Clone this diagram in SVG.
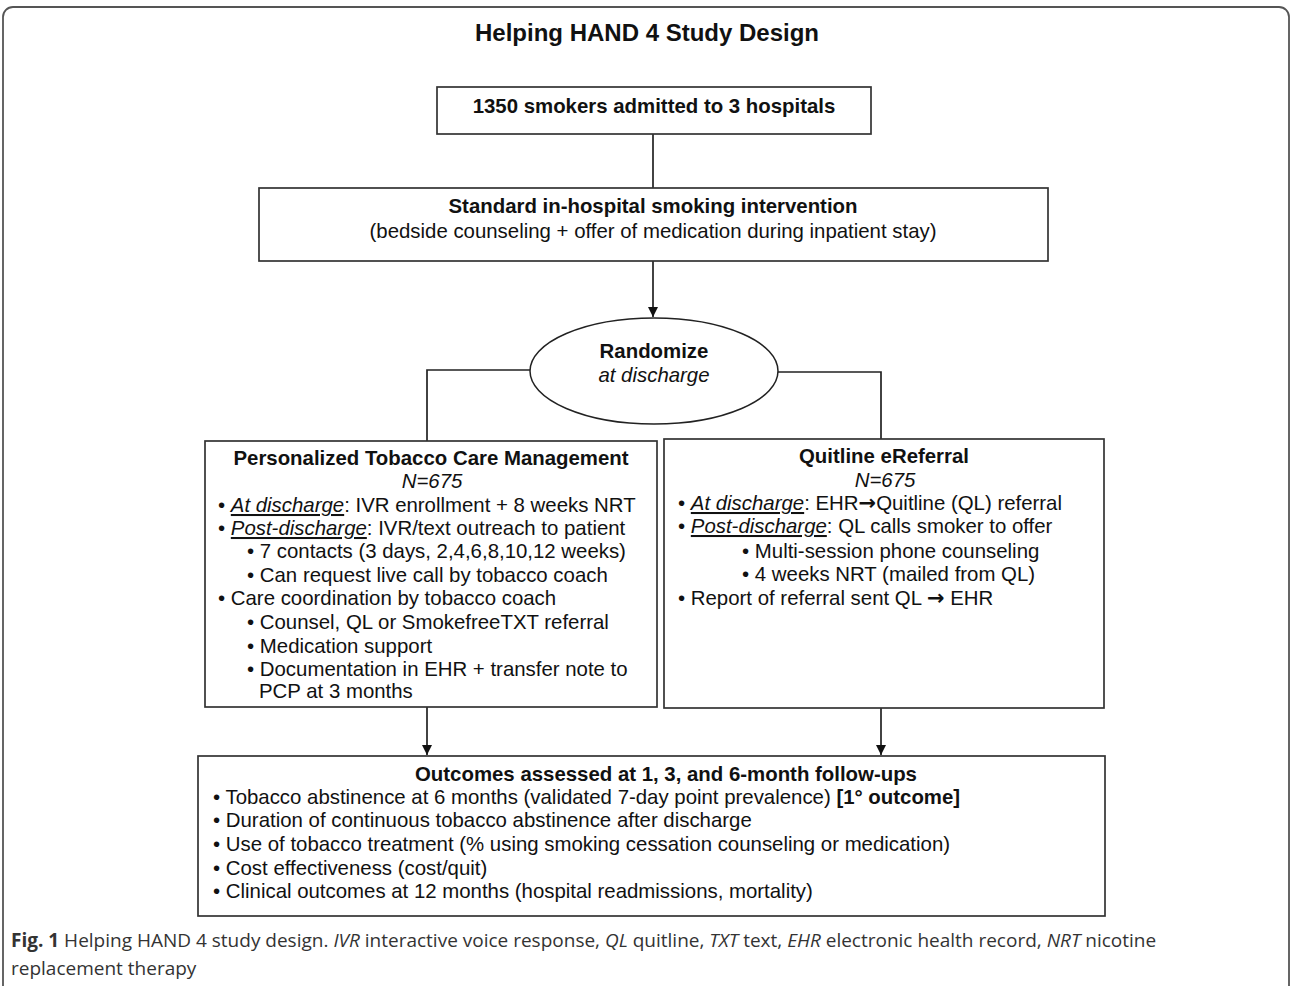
<svg xmlns="http://www.w3.org/2000/svg" width="1292" height="986" viewBox="0 0 1292 986">
<style>
  .t { font-family: "Liberation Sans", Arial, sans-serif; font-size: 20.4px; fill: #111; }
  .b { font-weight: bold; }
  .i { font-style: italic; }
  .u { text-decoration: underline; }
  .c { text-anchor: middle; }
  .ar { font-family: "DejaVu Sans", sans-serif; font-size: 21px; font-weight: bold; }
  .box { fill: #fff; stroke: #333; stroke-width: 1.7; }
  .ln { fill: none; stroke: #222; stroke-width: 1.7; }
  .cap { font-family: "Open Sans", "Liberation Sans", sans-serif; font-size: 19px; fill: #333; }
</style>
<defs>
  <marker id="ah" markerUnits="userSpaceOnUse" markerWidth="12" markerHeight="10" refX="10" refY="5" orient="auto">
    <path d="M0,0 L10,5 L0,10 Z" fill="#111"/>
  </marker>
</defs>
<rect x="3" y="7" width="1286" height="1010" rx="10" fill="#fff" stroke="#555" stroke-width="1.8"/>
<text class="t b c" x="647" y="41" style="font-size:24px">Helping HAND 4 Study Design</text>

<g id="connectors">
  <line class="ln" x1="653" y1="134" x2="653" y2="188"/>
  <line class="ln" x1="653" y1="261" x2="653" y2="317" marker-end="url(#ah)"/>
  <polyline class="ln" points="531,370 427,370 427,441"/>
  <polyline class="ln" points="777,372 881,372 881,439"/>
  <line class="ln" x1="427" y1="707" x2="427" y2="755" marker-end="url(#ah)"/>
  <line class="ln" x1="881" y1="708" x2="881" y2="755" marker-end="url(#ah)"/>
</g>

<g id="smokers">
  <rect class="box" x="437" y="87" width="434" height="47"/>
  <text class="t b c" x="654" y="113">1350 smokers admitted to 3 hospitals</text>
</g>

<g id="standard">
  <rect class="box" x="259" y="188" width="789" height="73"/>
  <text class="t b c" x="653" y="213">Standard in-hospital smoking intervention</text>
  <text class="t c" x="653" y="238">(bedside counseling + offer of medication during inpatient stay)</text>
</g>

<g id="randomize">
  <ellipse cx="654" cy="371" rx="124" ry="53" fill="#fff" stroke="#222" stroke-width="1.5"/>
  <text class="t b c" x="654" y="358">Randomize</text>
  <text class="t i c" x="654" y="382">at discharge</text>
</g>

<g id="ptcm">
  <rect class="box" x="205" y="441" width="452" height="266"/>
  <text class="t b c" x="431" y="465">Personalized Tobacco Care Management</text>
  <text class="t i c" x="432" y="488">N=675</text>
  <text class="t" x="218" y="512">• <tspan class="i u">At discharge</tspan>: IVR enrollment + 8 weeks NRT</text>
  <text class="t" x="218" y="535">• <tspan class="i u">Post-discharge</tspan>: IVR/text outreach to patient</text>
  <text class="t" x="247" y="558">• 7 contacts (3 days, 2,4,6,8,10,12 weeks)</text>
  <text class="t" x="247" y="582">• Can request live call by tobacco coach</text>
  <text class="t" x="218" y="605">• Care coordination by tobacco coach</text>
  <text class="t" x="247" y="629">• Counsel, QL or SmokefreeTXT referral</text>
  <text class="t" x="247" y="653">• Medication support</text>
  <text class="t" x="247" y="676">• Documentation in EHR + transfer note to</text>
  <text class="t" x="259" y="698">PCP at 3 months</text>
</g>

<g id="quitline">
  <rect class="box" x="664" y="439" width="440" height="269"/>
  <text class="t b c" x="884" y="463">Quitline eReferral</text>
  <text class="t i c" x="885" y="487">N=675</text>
  <text class="t" x="678" y="510">• <tspan class="i u">At discharge</tspan>: EHR<tspan class="ar">→</tspan>Quitline (QL) referral</text>
  <text class="t" x="678" y="533">• <tspan class="i u">Post-discharge</tspan>: QL calls smoker to offer</text>
  <text class="t" x="742" y="558">• Multi-session phone counseling</text>
  <text class="t" x="742" y="581">• 4 weeks NRT (mailed from QL)</text>
  <text class="t" x="678" y="605">• Report of referral sent QL <tspan class="ar">→</tspan> EHR</text>
</g>

<g id="outcomes">
  <rect class="box" x="198" y="756" width="907" height="160"/>
  <text class="t b" x="415" y="781">Outcomes assessed at 1, 3, and 6-month follow-ups</text>
  <text class="t" x="213" y="804">• Tobacco abstinence at 6 months (validated 7-day point prevalence) <tspan class="b">[1° outcome]</tspan></text>
  <text class="t" x="213" y="827">• Duration of continuous tobacco abstinence after discharge</text>
  <text class="t" x="213" y="851">• Use of tobacco treatment (% using smoking cessation counseling or medication)</text>
  <text class="t" x="213" y="875">• Cost effectiveness (cost/quit)</text>
  <text class="t" x="213" y="898">• Clinical outcomes at 12 months (hospital readmissions, mortality)</text>
</g>

<text class="cap" x="11" y="947"><tspan font-weight="bold">Fig. 1</tspan> Helping HAND 4 study design. <tspan font-style="italic">IVR</tspan> interactive voice response, <tspan font-style="italic">QL</tspan> quitline, <tspan font-style="italic">TXT</tspan> text, <tspan font-style="italic">EHR</tspan> electronic health record, <tspan font-style="italic">NRT</tspan> nicotine</text>
<text class="cap" x="11" y="975">replacement therapy</text>
</svg>
